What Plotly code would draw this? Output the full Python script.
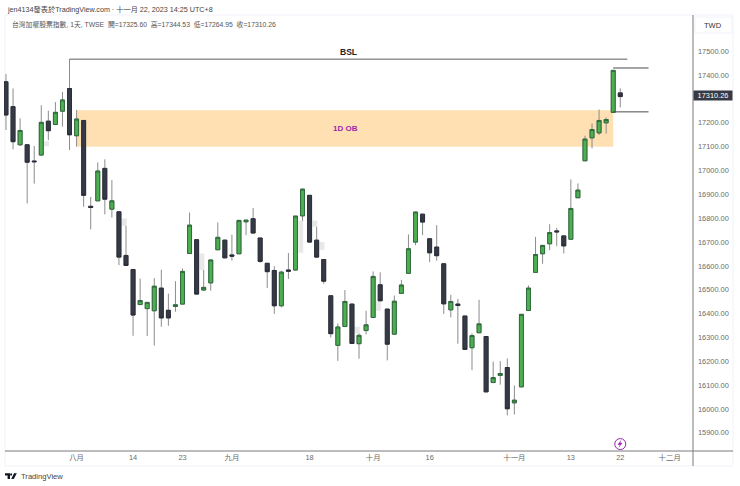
import plotly.graph_objects as go

# daily bars, left to right
opens = [17372, 17268, 17108, 17108, 17040, 17065, 17207, 17193, 17249, 17344, 17146, 17210, 16850, 16873, 17009, 16838, 16827, 16644, 16585, 16438, 16421, 16412, 16507, 16414, 16430, 16440,
         16652, 16710, 16499, 16529, 16668, 16708, 16646, 16651, 16785, 16798, 16717, 16611, 16581, 16433, 16583, 16583, 16810, 16896, 16708, 16627, 16475, 16267, 16346, 16440, 16274,
         16329, 16384, 16521, 16419, 16314, 16485, 16569, 16700, 16817, 16714, 16679, 16609, 16416, 16440, 16390, 16257, 16320, 16304, 16111, 16141, 16174, 16026, 16093, 16413, 16573, 16651,
         16693, 16747, 16726, 16712, 16886, 17041, 17137, 17158, 17200, 17244, 17325.60]
highs = [17405, 17344, 17219, 17108, 17103, 17274, 17251, 17287, 17330, 17467, 17254, 17212, 16889, 17034, 17047, 16960, 16828, 16768, 16585, 16547, 16447, 16549, 16584, 16484, 16536, 16589,
         16824, 16710, 16583, 16627, 16783, 16711, 16731, 16792, 16792, 16843, 16717, 16611, 16599, 16580, 16654, 16809, 16924, 16897, 16764, 16627, 16475, 16359, 16499, 16440, 16317,
         16412, 16577, 16573, 16419, 16476, 16541, 16732, 16827, 16817, 16714, 16771, 16609, 16479, 16462, 16390, 16317, 16458, 16304, 16199, 16201, 16212, 16099, 16397, 16518, 16722, 16686,
         16775, 16760, 16726, 16963, 16946, 17146, 17197, 17256, 17223, 17421, 17344.53]
lows = [17170, 17089, 17103, 16862, 16945, 17062, 17128, 17191, 17184, 17086, 17100, 16848, 16753, 16872, 16816, 16803, 16603, 16601, 16307, 16436, 16306, 16266, 16345, 16349, 16408, 16439,
        16651, 16482, 16496, 16496, 16666, 16632, 16622, 16650, 16729, 16736, 16613, 16507, 16399, 16426, 16545, 16581, 16789, 16699, 16636, 16525, 16300, 16202, 16345, 16274, 16211,
        16313, 16383, 16452, 16204, 16313, 16483, 16567, 16687, 16729, 16616, 16622, 16399, 16384, 16274, 16248, 16163, 16318, 16071, 16110, 16102, 15973, 15977, 16092, 16412, 16571, 16609,
        16666, 16683, 16652, 16711, 16884, 17039, 17093, 17149, 17155, 17242, 17264.95]
closes = [17233, 17121, 17168, 17035, 17037, 17202, 17167, 17244, 17296, 17150, 17216, 16896, 16845, 16998, 16880, 16873, 16637, 16602, 16394, 16455, 16447, 16515, 16382, 16382, 16437, 16577,
          16771, 16482, 16510, 16625, 16720, 16634, 16641, 16791, 16792, 16738, 16619, 16576, 16433, 16574, 16578, 16809, 16922, 16700, 16637, 16536, 16316, 16344, 16451, 16275, 16309,
          16353, 16556, 16454, 16272, 16452, 16520, 16672, 16826, 16784, 16655, 16643, 16441, 16451, 16434, 16250, 16308, 16357, 16072, 16132, 16149, 16001, 16037, 16397, 16507, 16648, 16686,
          16740, 16743, 16684, 16841, 16918, 17132, 17172, 17210, 17214, 17420, 17310.26]
bars = list(range(len(opens)))

# the pale grey leftovers behind some candles
ghost_x = [5.75, 16.75, 27.75, 41.75, 43.75, 44.75, 49.75, 52.75]
ghost_top = [17123, 16799, 16652, 16790, 16790, 16700, 16345, 16454]
ghost_bottom = [17102, 16767, 16583, 16655, 16764, 16667, 16317, 16412]

tick_bars = [10, 18, 25, 32, 43, 52, 60, 72, 80, 87, 94]
tick_labels = ["八月", "14", "23", "九月", "18", "十月", "16", "十一月", "13", "22", "十二月"]
# 17300 is hidden behind the last price label in the original
price_ticks = [p for p in range(15900, 17600, 100) if p != 17300]

# drawn levels
ob_start, ob_end, ob_top, ob_bottom = 10, 86, 17253, 17100
bsl_start, bsl_end, bsl_price = 9, 88, 17467
box_start, box_end, box_top, box_bottom = 86, 91, 17430, 17246

FONT = "Liberation Sans, Noto Sans CJK TC"
W, H = 740, 486
L, R, T, B = 4, 47, 16, 35


def px(x):
    return (x - L) / (W - L - R)


def py(y):
    return 1 - (y - T) / (H - T - B)


def icon(points, color):
    path = "M" + " L".join(f"{px(a):.5f},{py(b):.5f}" for a, b in points) + " Z"
    fig.add_shape(type="path", xref="paper", yref="paper", path=path, fillcolor=color, line_width=0)


fig = go.Figure()
fig.add_shape(type="rect", x0=ob_start, x1=ob_end, y0=ob_bottom, y1=ob_top,
              fillcolor="#ffe0b2", line_width=0, layer="below")

fig.add_trace(go.Bar(x=ghost_x, base=ghost_bottom, y=[a - b for a, b in zip(ghost_top, ghost_bottom)],
                     width=0.7, marker_color="#e8e8e8", marker_line_width=0))
# wicks first, in grey, then the bodies on top without wicks
fig.add_trace(go.Candlestick(x=bars, open=opens, high=highs, low=lows, close=closes,
                             increasing=dict(line=dict(color="#8c8c8c", width=1), fillcolor="#8c8c8c"),
                             decreasing=dict(line=dict(color="#8c8c8c", width=1), fillcolor="#8c8c8c")))
fig.add_trace(go.Candlestick(x=bars, open=opens, close=closes,
                             high=[max(a, b) for a, b in zip(opens, closes)],
                             low=[min(a, b) for a, b in zip(opens, closes)],
                             increasing=dict(line=dict(color="#2f6b3c", width=1), fillcolor="#4caf50"),
                             decreasing=dict(line=dict(color="#2a2e39", width=1), fillcolor="#363a45")))

fig.add_trace(go.Scatter(x=[bsl_start, bsl_end], y=[bsl_price, bsl_price], mode="lines",
                         line=dict(color="#5d5d5d", width=1)))
fig.add_trace(go.Scatter(x=[box_start, box_end], y=[box_top, box_top], mode="lines",
                         line=dict(color="#4a4a4a", width=1)))
fig.add_trace(go.Scatter(x=[box_start, box_end], y=[box_bottom, box_bottom], mode="lines",
                         line=dict(color="#4a4a4a", width=1)))
fig.add_trace(go.Scatter(x=[87], y=[15853], mode="markers",
                         marker=dict(symbol="circle-open", size=11, color="#9c27b0", line=dict(width=1, color="#9c27b0"))))

# frame lines
fig.add_shape(type="rect", xref="paper", yref="paper", x0=px(5), x1=px(733), y0=py(466), y1=py(15),
              line=dict(color="#f0f3fa", width=1), layer="below")
fig.add_shape(type="rect", xref="paper", yref="paper", x0=px(695), x1=px(732), y0=py(33), y1=py(17),
              line=dict(color="#f0f3fa", width=1), layer="below")
fig.add_shape(type="line", xref="paper", yref="paper", x0=px(5), x1=px(733), y0=0, y1=0,
              line=dict(color="#7a7a7a", width=1))
fig.add_shape(type="line", xref="paper", yref="paper", x0=1, x1=1, y0=py(466), y1=py(15),
              line=dict(color="#7a7a7a", width=1))

# lightning mark and TradingView logo
icon([(621.5, 439.5), (617.5, 444.8), (619.8, 444.8), (618.5, 448), (622.5, 442.8), (620.2, 442.8)], "#9c27b0")
icon([(5, 473.3), (10, 473.3), (10, 479), (7.6, 479), (7.6, 475.6), (5, 475.6)], "#131722")
icon([(10.2, 473.5), (12, 473.5), (12, 475.4), (10.2, 475.4)], "#131722")
icon([(14, 473.3), (16.8, 473.3), (13.8, 479), (11.2, 479)], "#131722")


def note(text, x, y, size, color, bold=False, anchor="left", **kw):
    fig.add_annotation(text=f"<b>{text}</b>" if bold else text, x=px(x), y=py(y), xref="paper", yref="paper",
                       xanchor=anchor, yanchor="middle", showarrow=False,
                       font=dict(family=FONT, size=size, color=color), **kw)


note("jen4134發表於TradingView.com · 十一月 22, 2023 14:25 UTC+8", 5, 9, 7.2, "#444444")
note("台灣加權股票指數, 1天, TWSE\u00a0\u00a0開=17325.60\u00a0\u00a0高=17344.53\u00a0\u00a0低=17264.95\u00a0\u00a0收=17310.26", 10, 24, 6.8, "#555555")
note("BSL", 348, 52, 8.5, "#222222", bold=True, anchor="center")
note("1D OB", 345, 129, 8, "#9c27b0", bold=True, anchor="center")
note("TWD", 713, 25, 7.5, "#333333", anchor="center")
note("17310.26", 712.5, 95, 7.4, "#ffffff", anchor="center", bgcolor="#363a45", borderpad=0, width=38, height=9)
note("TradingView", 19, 476, 7.6, "#444444")

fig.update_layout(
    width=W, height=H, margin=dict(l=L, r=R, t=T, b=B, autoexpand=False),
    plot_bgcolor="white", paper_bgcolor="white", showlegend=False, hovermode=False,
    boxgap=0.2, barmode="overlay",
    font=dict(family=FONT, size=7.4, color="#6b6b6b"),
    xaxis=dict(range=[-0.28, 97.3], rangeslider_visible=False, tickmode="array", tickvals=tick_bars,
               ticktext=tick_labels, showgrid=False, zeroline=False, ticks="", ticklabelstandoff=1,
               tickfont=dict(size=7.4, color="#6b6b6b")),
    yaxis=dict(range=[15824, 17648], side="right", tickmode="array", tickvals=price_ticks,
               tickformat=".2f", showgrid=False, zeroline=False, ticks="", ticklabelstandoff=4,
               tickfont=dict(size=7.4, color="#6b6b6b")),
)
# the page's default body margin would push the chart off the window
fig.write_html("out.html", config={"displayModeBar": False},
               post_script="document.body.style.margin='0';document.body.style.overflow='hidden';")
